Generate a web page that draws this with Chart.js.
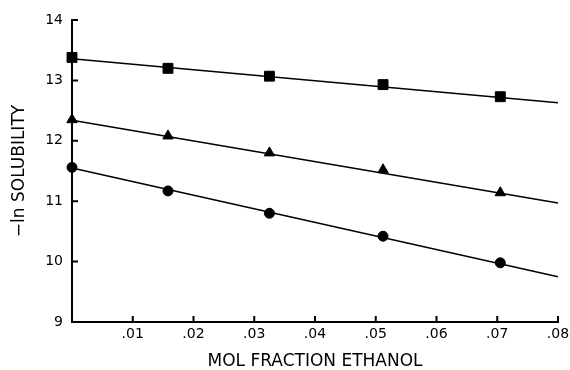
<!DOCTYPE html>
<html>
<head>
<meta charset="utf-8">
<script src="https://cdn.jsdelivr.net/npm/chart.js@4.4.0/dist/chart.umd.min.js"></script>
<style>
  html, body { margin: 0; padding: 0; background: #fff; }
  canvas { display: block; }
</style>
</head>
<body>
<canvas id="solChart" width="570" height="370"></canvas>
<script>
// mol fraction ethanol at each measured point
const molFraction = [0, 0.0158, 0.0325, 0.0512, 0.0705];

// -ln solubility
const squareSeries = [13.38, 13.20, 13.07, 12.93, 12.73];
const triangleSeries = [12.35, 12.08, 11.80, 11.52, 11.14];
const circleSeries = [11.56, 11.17, 10.80, 10.42, 9.98];

// fitted lines, ends
const fitX = [0, 0.08];
const squareFit = [13.36, 12.63];
const triangleFit = [12.34, 10.97];
const circleFit = [11.55, 9.75];

// axis ticks
const xTicks = [0.01, 0.02, 0.03, 0.04, 0.05, 0.06, 0.07, 0.08];
const xTickLabels = [".01", ".02", ".03", ".04", ".05", ".06", ".07", ".08"];
const yTicks = [9, 10, 11, 12, 13, 14];
const yTickLabels = ["9", "10", "11", "12", "13", "14"];

const pairs = (xs, ys) => xs.map((x, i) => ({ x, y: ys[i] }));

// ticks in the original point into the plot, so draw them ourselves
const inwardTicks = {
  id: 'inwardTicks',
  afterDraw(chart) {
    const ctx = chart.ctx;
    const xs = chart.scales.x, ys = chart.scales.y;
    ctx.save();
    ctx.strokeStyle = '#000';
    ctx.lineWidth = 2;
    ctx.beginPath();
    yTicks.forEach(v => {
      const py = ys.getPixelForValue(v);
      ctx.moveTo(xs.left, py);
      ctx.lineTo(xs.left + 6, py);
    });
    xTicks.forEach(v => {
      const px = xs.getPixelForValue(v);
      ctx.moveTo(px, ys.bottom);
      ctx.lineTo(px, ys.bottom - 6);
    });
    ctx.stroke();
    ctx.restore();
  }
};

function fitLine(data) {
  return {
    type: 'line', data: pairs(fitX, data), borderColor: '#000', borderWidth: 1.5,
    pointRadius: 0, showLine: true, clip: false, order: 2
  };
}

function points(data, style, radius) {
  return {
    type: 'scatter', data: pairs(molFraction, data), pointStyle: style, pointRadius: radius,
    backgroundColor: '#000', borderColor: '#000', borderWidth: 1, showLine: false, clip: false, order: 1
  };
}

const font = { family: 'DejaVu Sans', size: 14 };

new Chart(document.getElementById('solChart'), {
  data: {
    datasets: [
      fitLine(squareFit), fitLine(triangleFit), fitLine(circleFit),
      points(squareSeries, 'rect', 7),
      points(triangleSeries, 'triangle', 6),
      points(circleSeries, 'circle', 5)
    ]
  },
  options: {
    responsive: false,
    animation: false,
    layout: { padding: { top: 20, right: 12, left: 0, bottom: 0 } },
    plugins: { legend: { display: false }, tooltip: { enabled: false } },
    scales: {
      x: {
        type: 'linear', min: 0, max: 0.08,
        grid: { display: false, drawTicks: false },
        border: { display: true, color: '#000', width: 2 },
        afterBuildTicks: s => { s.ticks = xTicks.map(v => ({ value: v })); },
        afterFit: s => { s.height = 48; s.paddingRight = 0; s.paddingLeft = 0; },
        ticks: { color: '#000', font, padding: 4, maxRotation: 0, autoSkip: false,
          callback: (v, i) => xTickLabels[i] },
        title: { display: true, text: 'MOL FRACTION ETHANOL', color: '#000',
          font: { family: 'DejaVu Sans', size: 17, lineHeight: 1 }, padding: 0 }
      },
      y: {
        type: 'linear', min: 9, max: 14,
        grid: { display: false, drawTicks: false },
        border: { display: true, color: '#000', width: 2 },
        afterBuildTicks: s => { s.ticks = yTicks.map(v => ({ value: v })); },
        afterFit: s => { s.width = 72; s.paddingTop = 0; s.paddingBottom = 0; },
        ticks: { color: '#000', font, padding: 9, autoSkip: false,
          callback: (v, i) => yTickLabels[i] },
        title: { display: true, text: '\u2212ln SOLUBILITY', color: '#000',
          font: { family: 'DejaVu Sans', size: 17 }, padding: { top: 9, bottom: 0 } }
      }
    }
  },
  plugins: [inwardTicks]
});
</script>
</body>
</html>
